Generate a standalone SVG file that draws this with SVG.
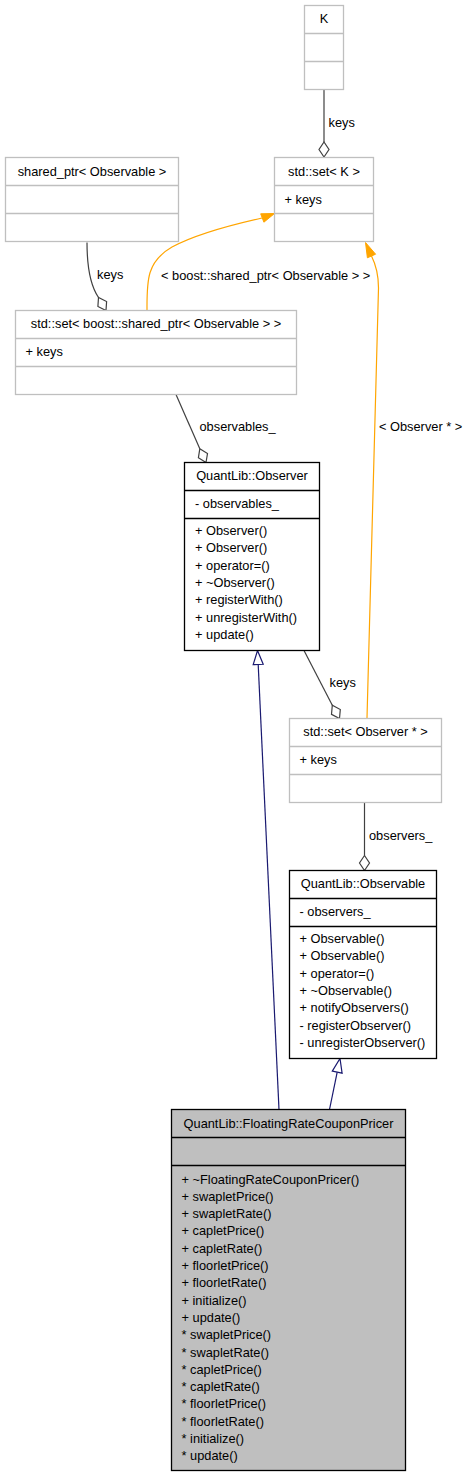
<svg xmlns="http://www.w3.org/2000/svg" width="471" height="1477" viewBox="0 0 471 1477">
<style>
text{font-family:"Liberation Sans",Arial,sans-serif;font-size:12.8px;fill:#000}
.t{text-anchor:middle}
.g rect,.g line{stroke:#bfbfbf;fill:#fff;stroke-width:1.3}
.b rect,.b line{stroke:#000;fill:#fff;stroke-width:1.3}
.b rect.f{fill:#bfbfbf}
.agg{stroke:#404040;fill:none;stroke-width:1.2}
.dia{stroke:#404040;fill:#fff;stroke-width:1.2}
.tmp{stroke:#ffa500;fill:none;stroke-width:1.2}
.tah{fill:#ffa500;stroke:#ffa500}
.inh{stroke:#191970;fill:none;stroke-width:1.2}
.iah{stroke:#191970;fill:#fff;stroke-width:1.2}
</style>
<rect width="471" height="1477" fill="#fff"/>
<g id="connectors">
  <path class="agg" d="M324,89.5 L324,142"/>
  <polygon class="dia" points="324,157 329,149.5 324,142 319,149.5"/>
  <text x="328.5" y="127">keys</text>

  <path class="agg" d="M87,242.5 C87,268 90,285 98.5,297.5"/>
  <polygon class="dia" points="106,310.5 106.6,301.5 98.5,297.5 97.9,306.5"/>
  <text x="97" y="279">keys</text>

  <path class="tmp" d="M147,310 C147,282 146,262 172,247 C198,233 235,224 262,218"/>
  <polygon class="tah" points="274.5,213.5 263.9,222.2 260.7,213.8"/>
  <text x="161" y="279.5">&lt; boost::shared_ptr&lt; Observable &gt; &gt;</text>

  <path class="tmp" d="M367,718 C371,520 378,330 378.5,288 C378.5,274 375.5,264 371.5,256"/>
  <polygon class="tah" points="365.5,242.5 375.6,254.2 367.4,257.8"/>
  <text x="379" y="431">&lt; Observer * &gt;</text>

  <path class="agg" d="M176,394.5 L199.8,448.8"/>
  <polygon class="dia" points="206,462.5 207.5,453.6 199.8,448.8 198.4,457.7"/>
  <text x="199.5" y="431">observables_</text>

  <path class="agg" d="M304,650.5 L332.3,705.3"/>
  <polygon class="dia" points="339.5,718.5 340.3,709.5 332.3,705.3 331.5,714.3"/>
  <text x="329.5" y="687">keys</text>

  <path class="agg" d="M364.5,802.5 L364.5,855.5"/>
  <polygon class="dia" points="364.5,870.5 369.5,863 364.5,855.5 359.5,863"/>
  <text x="369" y="839.5">observers_</text>

  <path class="inh" d="M279,1109.5 L258.2,664.5"/>
  <polygon class="iah" points="257.5,650.5 263.2,664.3 253.2,664.7"/>

  <path class="inh" d="M329.5,1109.5 L337.2,1072.2"/>
  <polygon class="iah" points="340,1058.5 342.1,1073.2 332.3,1071.2"/>
</g>

<g id="node-K" class="g">
  <rect x="304.5" y="5.5" width="39" height="84"/>
  <line x1="304.5" y1="33.5" x2="343.5" y2="33.5"/>
  <line x1="304.5" y1="61.5" x2="343.5" y2="61.5"/>
  <text class="t" x="324" y="23">K</text>
</g>

<g id="node-setK" class="g">
  <rect x="274.5" y="157.5" width="99" height="84"/>
  <line x1="274.5" y1="185.5" x2="373.5" y2="185.5"/>
  <line x1="274.5" y1="213.5" x2="373.5" y2="213.5"/>
  <text class="t" x="324" y="175.5">std::set&lt; K &gt;</text>
  <text x="284.5" y="203.5">+ keys</text>
</g>

<g id="node-sharedptr" class="g">
  <rect x="5.5" y="157.5" width="173" height="84"/>
  <line x1="5.5" y1="185.5" x2="178.5" y2="185.5"/>
  <line x1="5.5" y1="213.5" x2="178.5" y2="213.5"/>
  <text class="t" x="92" y="175.5">shared_ptr&lt; Observable &gt;</text>
</g>

<g id="node-setSharedPtr" class="g">
  <rect x="15.5" y="310.5" width="281" height="84"/>
  <line x1="15.5" y1="338.5" x2="296.5" y2="338.5"/>
  <line x1="15.5" y1="366.5" x2="296.5" y2="366.5"/>
  <text class="t" x="156" y="328">std::set&lt; boost::shared_ptr&lt; Observable &gt; &gt;</text>
  <text x="25.5" y="356">+ keys</text>
</g>

<g id="node-Observer" class="b">
  <rect x="184.5" y="462.5" width="135" height="188"/>
  <line x1="184.5" y1="490.5" x2="319.5" y2="490.5"/>
  <line x1="184.5" y1="518.5" x2="319.5" y2="518.5"/>
  <text class="t" x="252" y="480">QuantLib::Observer</text>
  <text x="195" y="507.5">- observables_</text>
  <text x="195" y="535">+ Observer()</text>
  <text x="195" y="552.3">+ Observer()</text>
  <text x="195" y="569.6">+ operator=()</text>
  <text x="195" y="586.9">+ ~Observer()</text>
  <text x="195" y="604.2">+ registerWith()</text>
  <text x="195" y="621.5">+ unregisterWith()</text>
  <text x="195" y="638.8">+ update()</text>
</g>

<g id="node-setObserver" class="g">
  <rect x="289.5" y="718.5" width="152" height="84"/>
  <line x1="289.5" y1="746.5" x2="441.5" y2="746.5"/>
  <line x1="289.5" y1="774.5" x2="441.5" y2="774.5"/>
  <text class="t" x="365.5" y="736">std::set&lt; Observer * &gt;</text>
  <text x="299.5" y="763.5">+ keys</text>
</g>

<g id="node-Observable" class="b">
  <rect x="289.5" y="870.5" width="147" height="188"/>
  <line x1="289.5" y1="898.5" x2="436.5" y2="898.5"/>
  <line x1="289.5" y1="926.5" x2="436.5" y2="926.5"/>
  <text class="t" x="363" y="887.5">QuantLib::Observable</text>
  <text x="299.5" y="915.5">- observers_</text>
  <text x="299.5" y="943">+ Observable()</text>
  <text x="299.5" y="960.3">+ Observable()</text>
  <text x="299.5" y="977.6">+ operator=()</text>
  <text x="299.5" y="994.9">+ ~Observable()</text>
  <text x="299.5" y="1012.2">+ notifyObservers()</text>
  <text x="299.5" y="1029.5">- registerObserver()</text>
  <text x="299.5" y="1046.8">- unregisterObserver()</text>
</g>

<g id="node-FloatingRateCouponPricer" class="b">
  <rect class="f" x="171.5" y="1109.5" width="234" height="361"/>
  <line x1="171.5" y1="1137.5" x2="405.5" y2="1137.5"/>
  <line x1="171.5" y1="1165.5" x2="405.5" y2="1165.5"/>
  <text class="t" x="288.5" y="1127.5">QuantLib::FloatingRateCouponPricer</text>
  <text x="181.5" y="1183.5">+ ~FloatingRateCouponPricer()</text>
  <text x="181.5" y="1200.8">+ swapletPrice()</text>
  <text x="181.5" y="1218.1">+ swapletRate()</text>
  <text x="181.5" y="1235.4">+ capletPrice()</text>
  <text x="181.5" y="1252.7">+ capletRate()</text>
  <text x="181.5" y="1270">+ floorletPrice()</text>
  <text x="181.5" y="1287.3">+ floorletRate()</text>
  <text x="181.5" y="1304.6">+ initialize()</text>
  <text x="181.5" y="1321.9">+ update()</text>
  <text x="181.5" y="1339.2">* swapletPrice()</text>
  <text x="181.5" y="1356.5">* swapletRate()</text>
  <text x="181.5" y="1373.8">* capletPrice()</text>
  <text x="181.5" y="1391.1">* capletRate()</text>
  <text x="181.5" y="1408.4">* floorletPrice()</text>
  <text x="181.5" y="1425.7">* floorletRate()</text>
  <text x="181.5" y="1443">* initialize()</text>
  <text x="181.5" y="1460.3">* update()</text>
</g>
</svg>
